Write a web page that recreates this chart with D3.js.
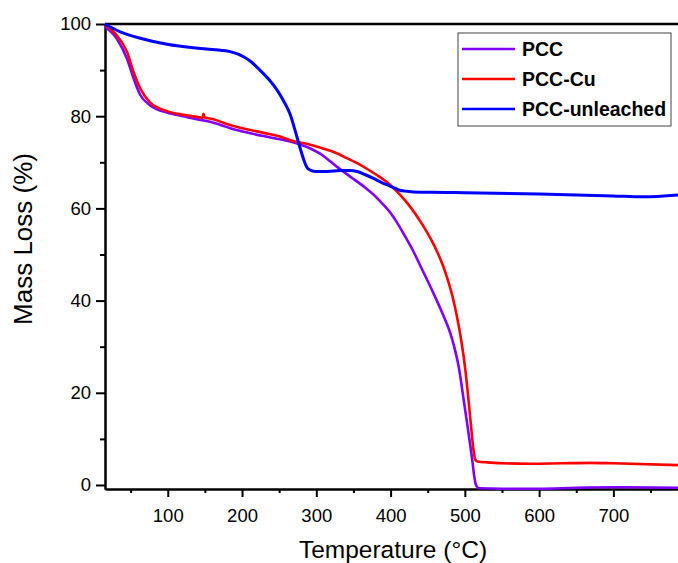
<!DOCTYPE html>
<html>
<head>
<meta charset="utf-8">
<script src="https://cdn.jsdelivr.net/npm/d3@7"></script>
<style>
  body { margin: 0; background: #fff; }
  svg { font-family: Arial, "Liberation Sans", sans-serif; }
</style>
</head>
<body>
<div id="chart"></div>
<script>
// series data: [temperature, mass %]
var pccTemp = [15, 31, 45, 54, 63, 76, 99, 121, 144, 157, 171, 184, 211, 238, 265, 292, 305, 328, 355, 366, 377, 388, 400, 410, 420, 431, 442, 454, 462, 471, 480.5, 486, 491.7, 498.5, 505, 510, 513, 515.5, 519, 550, 600, 650, 700, 787];
var pccMass = [99.4, 96.9, 92.5, 88.2, 84.6, 82.4, 80.8, 80.0, 79.2, 78.8, 78.1, 77.4, 76.3, 75.4, 74.5, 73.0, 71.9, 69.0, 65.8, 64.5, 63.0, 61.2, 59.0, 56.6, 53.8, 50.6, 46.9, 42.9, 40.1, 36.8, 32.9, 29.8, 25.7, 18.4, 11.2, 5.4, 1.5, -0.2, -0.7, -0.8, -0.8, -0.6, -0.5, -0.6];

var cuTemp = [15, 31, 45, 54, 63, 76, 99, 121, 144, 147, 148, 150, 157, 184, 211, 238, 251, 265, 292, 305, 319, 330, 341, 355, 368, 382, 395, 407, 418, 428, 438, 447, 455, 463, 471, 478, 484, 489, 494, 498, 501, 504, 507, 510, 512, 514, 517, 530, 588, 630, 670, 700, 787];
var cuMass = [99.8, 97.6, 94.0, 89.6, 86.0, 83.0, 81.1, 80.3, 79.7, 79.6, 80.5, 79.7, 79.5, 78.1, 77.0, 76.1, 75.6, 74.8, 73.8, 73.2, 72.5, 71.8, 70.9, 69.8, 68.6, 67.2, 65.7, 63.9, 62.0, 60.0, 57.7, 55.4, 53.1, 50.5, 47.4, 44.0, 40.5, 36.8, 32.5, 28.3, 24.5, 20.0, 15.0, 10.0, 7.2, 5.5, 5.1, 4.9, 4.6, 4.7, 4.8, 4.7, 4.3];

var unlTemp = [15, 36, 63, 99, 144, 171, 184, 202, 213, 224, 236, 247, 256, 265, 272, 278, 283, 287, 292, 300, 315, 332, 345, 355, 366, 377, 388, 400, 411, 422, 440, 454, 500, 600, 700, 740, 787];
var unlMass = [100, 98.3, 96.9, 95.6, 94.7, 94.3, 94.0, 92.9, 91.7, 90.0, 88.0, 85.7, 83.3, 80.3, 76.6, 73.2, 70.6, 69.0, 68.3, 68.0, 68.0, 68.2, 68.2, 68.0, 67.3, 66.5, 65.6, 64.8, 64.0, 63.7, 63.5, 63.5, 63.4, 63.1, 62.7, 62.5, 62.9];

var seriesNames = ["PCC", "PCC-Cu", "PCC-unleached"];
var seriesColors = ["#8000ff", "#ff0000", "#0000ff"];

var xTicks = [100, 200, 300, 400, 500, 600, 700];
var xMinor = [50, 150, 250, 350, 450, 550, 650, 750];
var yTicks = [0, 20, 40, 60, 80, 100];
var yMinor = [10, 30, 50, 70, 90];

// plot box
var width = 678, height = 563;
var plotLeft = 105, plotRight = 678, plotTop = 24, plotBottom = 489;

var svg = d3.select("#chart")
  .append("svg")
  .attr("width", width)
  .attr("height", height);

var x = d3.scaleLinear().domain([15.5, 787]).range([plotLeft, plotRight]);
var y = d3.scaleLinear().domain([-0.87, 100]).range([plotBottom, plotTop]);

var series = [
  {name: seriesNames[0], color: seriesColors[0], w: 2.6, t: pccTemp, m: pccMass},
  {name: seriesNames[1], color: seriesColors[1], w: 2.6, t: cuTemp, m: cuMass},
  {name: seriesNames[2], color: seriesColors[2], w: 3, t: unlTemp, m: unlMass}
];

var line = d3.line()
  .x(function(d) { return x(d[0]); })
  .y(function(d) { return y(d[1]); })
  .curve(d3.curveMonotoneX);

// X axis
svg.append("g")
  .attr("transform", "translate(0," + plotBottom + ")")
  .call(d3.axisBottom(x).tickValues(xTicks).tickSize(8).tickSizeOuter(0).tickPadding(12));
svg.append("g")
  .attr("transform", "translate(0," + plotBottom + ")")
  .call(d3.axisBottom(x).tickValues(xMinor).tickSize(4).tickSizeOuter(0).tickFormat(""));

// Y axis
svg.append("g")
  .attr("transform", "translate(" + plotLeft + ",0)")
  .call(d3.axisLeft(y).tickValues(yTicks).tickSize(9).tickSizeOuter(0).tickPadding(5));
svg.append("g")
  .attr("transform", "translate(" + plotLeft + ",0)")
  .call(d3.axisLeft(y).tickValues(yMinor).tickSize(5).tickSizeOuter(0).tickFormat(""));

svg.selectAll(".domain, .tick line").attr("stroke", "#000").attr("stroke-width", 2);
svg.selectAll(".tick text")
  .attr("font-size", 18.5)
  .attr("fill", "#000")
  .attr("font-family", "Arial, 'Liberation Sans', sans-serif");

// top frame line
svg.append("line")
  .attr("x1", plotLeft).attr("x2", plotRight)
  .attr("y1", plotTop).attr("y2", plotTop)
  .attr("stroke", "#000").attr("stroke-width", 2.4);

// lines
svg.append("g")
  .selectAll("path")
  .data(series)
  .enter()
  .append("path")
    .attr("d", function(s) { return line(d3.zip(s.t, s.m)); })
    .attr("fill", "none")
    .attr("stroke", function(s) { return s.color; })
    .attr("stroke-width", function(s) { return s.w; })
    .attr("stroke-linejoin", "round");

// axis titles
svg.append("text")
  .attr("x", 393).attr("y", 558)
  .attr("text-anchor", "middle")
  .attr("font-size", 24.5)
  .text("Temperature (\u00B0C)");

svg.append("text")
  .attr("transform", "translate(32,239) rotate(-90)")
  .attr("text-anchor", "middle")
  .attr("font-size", 26)
  .text("Mass Loss (%)");

// legend
var legend = svg.append("g");
legend.append("rect")
  .attr("x", 458).attr("y", 33)
  .attr("width", 213).attr("height", 93)
  .attr("fill", "#fff")
  .attr("stroke", "#444").attr("stroke-width", 1);

var item = legend.selectAll(".item")
  .data(series)
  .enter()
  .append("g")
    .attr("transform", function(d, i) { return "translate(0," + (49 + i * 30) + ")"; });
item.append("line")
  .attr("x1", 462).attr("x2", 515)
  .attr("stroke", function(d) { return d.color; })
  .attr("stroke-width", 2.4);
item.append("text")
  .attr("x", 522).attr("dy", "0.35em")
  .attr("font-size", 19.5).attr("font-weight", "bold")
  .text(function(d) { return d.name; });
</script>
</body>
</html>
